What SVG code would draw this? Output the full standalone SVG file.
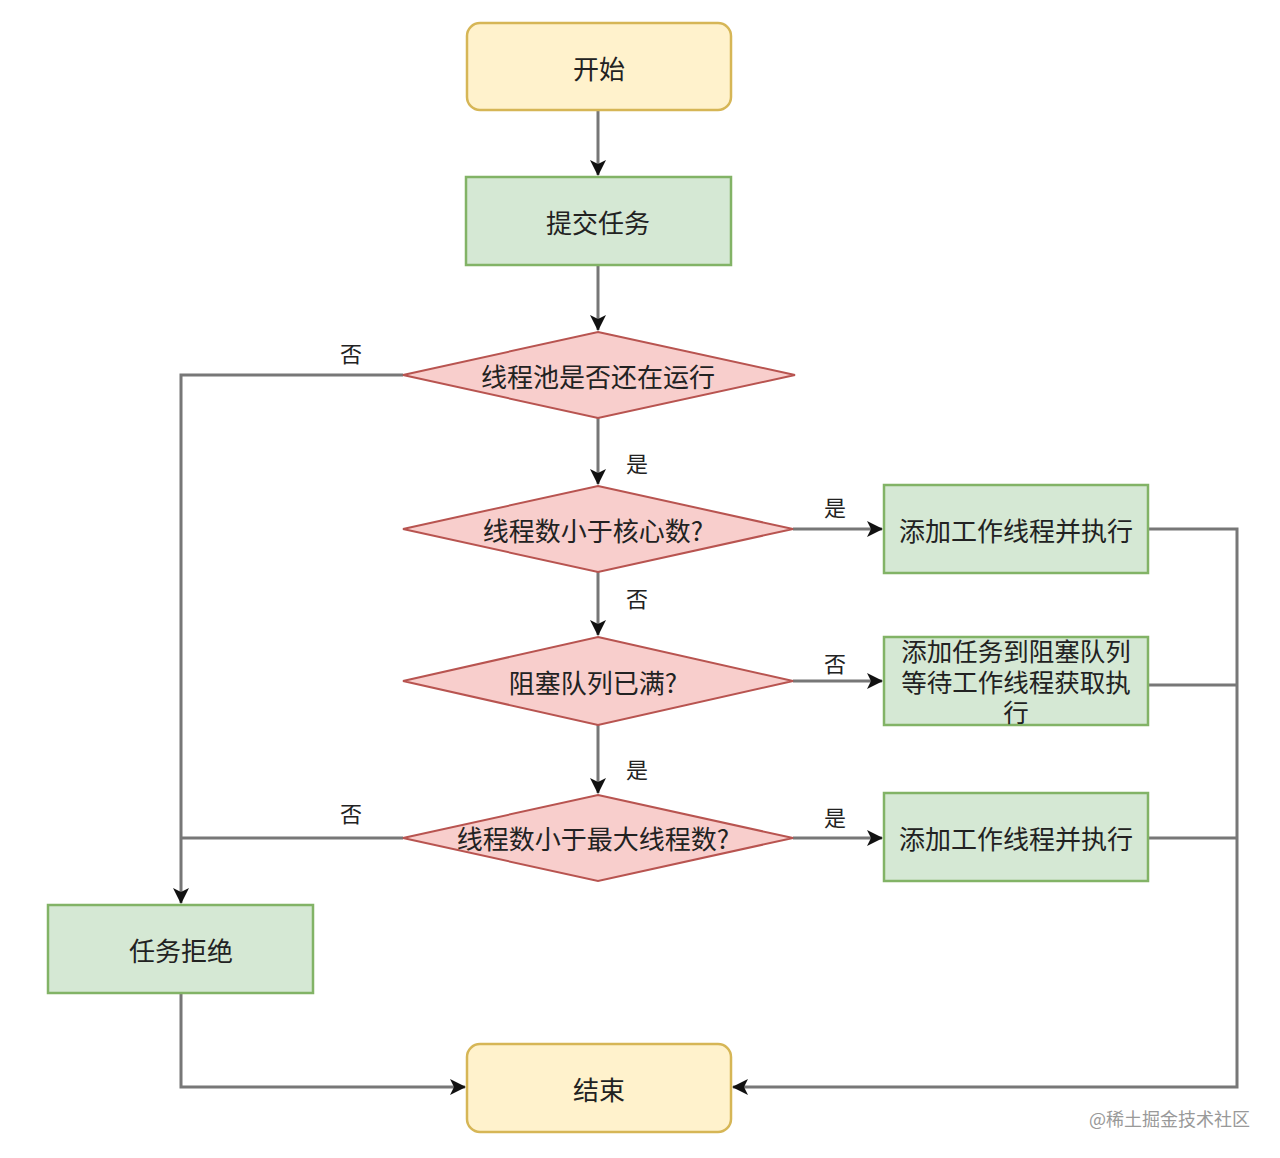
<svg xmlns="http://www.w3.org/2000/svg" width="1280" height="1158" viewBox="0 0 1280 1158">
<defs>
<marker id="a" viewBox="0 0 16 16" refX="15" refY="8" markerWidth="16" markerHeight="16" orient="auto" markerUnits="userSpaceOnUse">
<path d="M0,0 L16,8 L0,16 L4,8 Z" fill="#111"/>
</marker>
</defs>
<style>
.t{font-family:"Noto Sans CJK SC","Liberation Sans",sans-serif;font-size:26px;fill:#222;text-anchor:middle;dominant-baseline:central}
.t2{font-family:"Noto Sans CJK SC","Liberation Sans",sans-serif;font-size:25.5px;fill:#222;text-anchor:middle}
.l{font-family:"Noto Sans CJK SC","Liberation Sans",sans-serif;font-size:22px;fill:#222;text-anchor:middle;dominant-baseline:central}
.term{fill:#fff2cc;stroke:#d6b656;stroke-width:2.5}
.proc{fill:#d5e8d4;stroke:#82b366;stroke-width:2.5}
.dec{fill:#f8cecc;stroke:#b85450;stroke-width:2}
.c{fill:none;stroke:#777;stroke-width:3}
.wm{font-family:"Noto Sans CJK SC","Liberation Sans",sans-serif;font-size:18px;fill:#999;text-anchor:end;dominant-baseline:central}
</style>
<rect width="1280" height="1158" fill="#fff"/>
<g id="connectors">
<path class="c" d="M598,110 V175" marker-end="url(#a)"/>
<path class="c" d="M598,265 V330" marker-end="url(#a)"/>
<path class="c" d="M403,375 H181 V903" marker-end="url(#a)"/>
<path class="c" d="M598,418 V484" marker-end="url(#a)"/>
<path class="c" d="M793,529 H882" marker-end="url(#a)"/>
<path class="c" d="M598,572 V635" marker-end="url(#a)"/>
<path class="c" d="M793,681 H882" marker-end="url(#a)"/>
<path class="c" d="M598,725 V793" marker-end="url(#a)"/>
<path class="c" d="M403,838 H181"/>
<path class="c" d="M793,838 H882" marker-end="url(#a)"/>
<path class="c" d="M1148,529 H1237 V1087 H733" marker-end="url(#a)"/>
<path class="c" d="M1148,685 H1237"/>
<path class="c" d="M1148,838 H1237"/>
<path class="c" d="M181,993 V1087 H465" marker-end="url(#a)"/>
<text class="l" x="351" y="352">否</text>
<text class="l" x="637" y="462">是</text>
<text class="l" x="835" y="506">是</text>
<text class="l" x="637" y="597">否</text>
<text class="l" x="835" y="662">否</text>
<text class="l" x="637" y="768">是</text>
<text class="l" x="351" y="812">否</text>
<text class="l" x="835" y="816">是</text>
</g>
<g id="start"><rect class="term" x="467" y="23" width="264" height="87" rx="13"/><text class="t" x="599" y="67">开始</text></g>
<g id="submit"><rect class="proc" x="466" y="177" width="265" height="88"/><text class="t" x="598" y="221">提交任务</text></g>
<g id="d1"><polygon class="dec" points="598,332 795,375 598,418 403,375"/><text class="t" x="598" y="375">线程池是否还在运行</text></g>
<g id="d2"><polygon class="dec" points="598,486 793,529 598,572 403,529"/><text class="t" x="593" y="529">线程数小于核心数?</text></g>
<g id="d3"><polygon class="dec" points="598,637 793,681 598,725 403,681"/><text class="t" x="593" y="681">阻塞队列已满?</text></g>
<g id="d4"><polygon class="dec" points="598,795 793,838 598,881 403,838"/><text class="t" x="593" y="837">线程数小于最大线程数?</text></g>
<g id="r1"><rect class="proc" x="884" y="485" width="264" height="88"/><text class="t" x="1016" y="529">添加工作线程并执行</text></g>
<g id="r2"><rect class="proc" x="884" y="637" width="264" height="88"/><text class="t2" x="1016" y="661">添加任务到阻塞队列<tspan x="1016" dy="31">等待工作线程获取执</tspan><tspan x="1016" dy="30">行</tspan></text></g>
<g id="r3"><rect class="proc" x="884" y="793" width="264" height="88"/><text class="t" x="1016" y="837">添加工作线程并执行</text></g>
<g id="reject"><rect class="proc" x="48" y="905" width="265" height="88"/><text class="t" x="181" y="949">任务拒绝</text></g>
<g id="end"><rect class="term" x="467" y="1044" width="264" height="88" rx="13"/><text class="t" x="599" y="1088">结束</text></g>
<text class="wm" x="1250" y="1118">@稀土掘金技术社区</text>
</svg>
